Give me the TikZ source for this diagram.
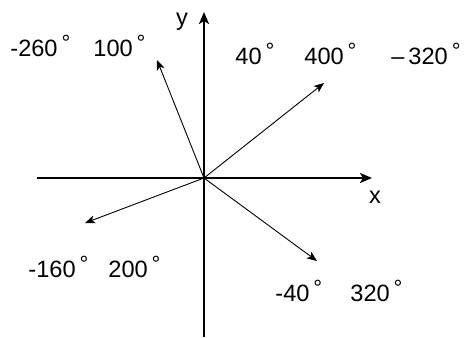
\documentclass[tikz,border=0pt]{standalone}
\usepackage{fontspec}
\setmainfont{Liberation Sans}
\usetikzlibrary{arrows.meta}
\newcommand\dg{\,\raisebox{3pt}{\fontsize{11}{11}\selectfont °}}

\begin{document}
\begin{tikzpicture}[
  x=0.5pt, y=0.5pt,
  axis/.style={line width=1.2pt, -{Stealth[length=6pt, width=5pt, inset=1.5pt]}},
  vec/.style={line width=0.45pt, -{Stealth[length=5pt, width=4pt, inset=1.2pt]}},
  lab/.style={inner sep=0pt, anchor=base west, font=\fontsize{11.8}{13}\selectfont}
]
\useasboundingbox (-204,-159) rectangle (260,178);
% axes
\coordinate (o) at (0,0);
\coordinate (xl) at (-167,0);
\coordinate (xr) at (168,0);
\coordinate (yb) at (0,-159);
\coordinate (yt) at (0,166);
\draw[axis] (xl) -- (xr);
\draw[axis] (yb) -- (yt);
\node[lab, anchor=base] (ylab) at (-22,152) {y};
\node[lab, anchor=base] (xlab) at (171,-25) {x};
% vectors
\coordinate (t100) at (-47,118);
\coordinate (t40) at (120,95);
\coordinate (t200) at (-119,-45);
\coordinate (t320) at (113,-83);
\draw[vec] (o) -- (t100);
\draw[vec] (o) -- (t40);
\draw[vec] (o) -- (t200);
\draw[vec] (o) -- (t320);
% angle labels
\node[lab] (a260) at (-194,121) {-260\dg};
\node[lab] (a100) at (-111,121) {100\dg};
\node[lab] (a40) at (31,113) {40\dg};
\node[lab] (a400) at (100,113) {400\dg};
\node[lab] (a320n) at (187,113) {–\,320\dg};
\node[lab] (a160) at (-176,-99) {-160\dg};
\node[lab] (a200) at (-96,-99) {200\dg};
\node[lab] (a40n) at (71,-123) {-40\dg};
\node[lab] (a320) at (146,-123) {320\dg};
\end{tikzpicture}
\end{document}
